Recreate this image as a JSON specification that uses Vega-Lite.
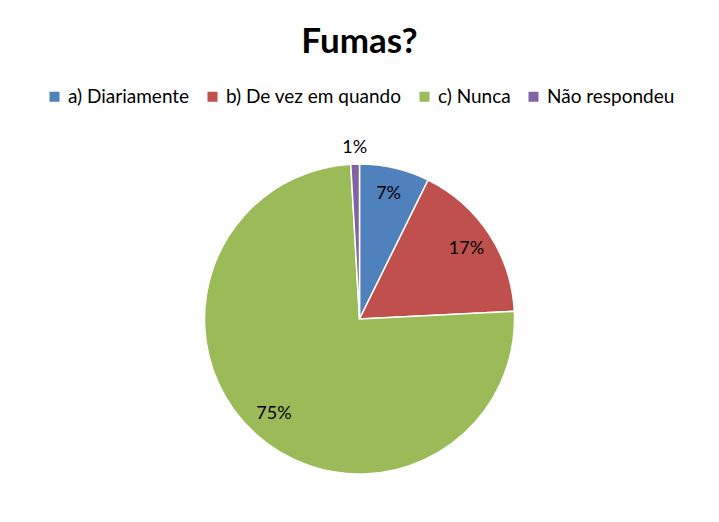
{
  "$schema": "https://vega.github.io/schema/vega-lite/v6.json",
  "width": 719,
  "height": 396,
  "padding": {"left": 0, "right": 0, "top": 25, "bottom": 0},
  "background": "white",
  "title": {"text": "Fumas?", "font": "Lato", "fontSize": 35, "fontWeight": "bold", "color": "#000000", "anchor": "middle", "offset": 27},
  "config": {"view": {"stroke": null}, "legend": {"layout": {"top": {"anchor": "middle"}}}},
  "data": {"values": [
    {"ord": 1, "cat": "a) Diariamente", "value": 7.3, "label": "7%"},
    {"ord": 2, "cat": "b) De vez em quando", "value": 16.9, "label": "17%"},
    {"ord": 3, "cat": "c) Nunca", "value": 74.9, "label": "75%"},
    {"ord": 4, "cat": "Não respondeu", "value": 0.9, "label": "1%"}
  ]},
  "encoding": {
    "theta": {"field": "value", "type": "quantitative", "stack": true},
    "order": {"field": "ord", "type": "quantitative", "sort": "ascending"},
    "color": {
      "field": "cat", "type": "nominal",
      "scale": {"domain": ["a) Diariamente", "b) De vez em quando", "c) Nunca", "Não respondeu"], "range": ["#4F81BD", "#C0504D", "#9BBB59", "#8064A2"]},
      "legend": {"title": null, "orient": "top", "direction": "horizontal", "symbolType": "square", "symbolSize": 100, "symbolStrokeWidth": 0, "labelFont": "Lato", "labelFontSize": 19, "labelLimit": 400, "labelOffset": 4, "labelColor": "#000000", "columnPadding": 13, "symbolOffset": 0, "offset": 14}
    }
  },
  "layer": [
    {"mark": {"type": "arc", "outerRadius": 155, "stroke": "white", "strokeWidth": 1.5}},
    {"mark": {"type": "text", "radius": 128, "font": "Lato", "fontSize": 18}, "encoding": {"text": {"condition": {"test": "datum.value >= 2", "field": "label"}, "value": ""}, "color": {"value": "#000000"}}},
    {"mark": {"type": "text", "radius": 171, "font": "Lato", "fontSize": 18}, "encoding": {"text": {"condition": {"test": "datum.value < 2", "field": "label"}, "value": ""}, "color": {"value": "#000000"}}}
  ]
}
